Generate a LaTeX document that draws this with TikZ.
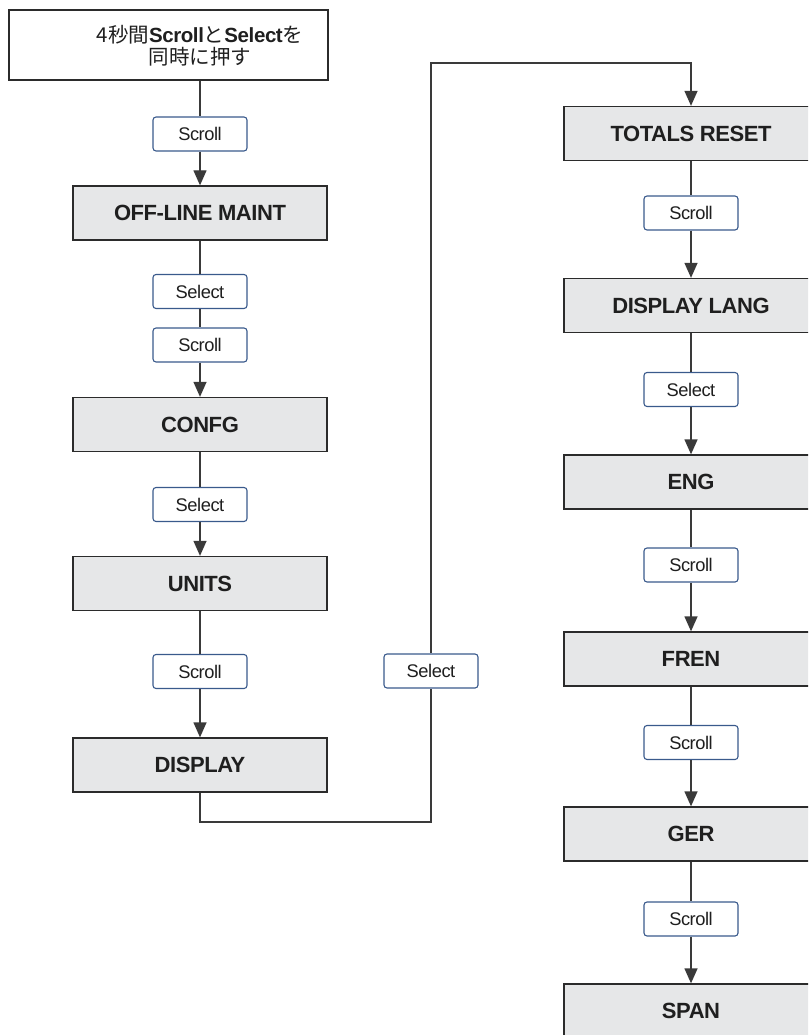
\documentclass[tikz,border=0pt]{standalone}
\usepackage{fontspec}
\setmainfont{Liberation Sans}
\newfontfamily\tightfont[LetterSpace=-2]{Liberation Sans}
\newfontfamily\btnfont[LetterSpace=-2.5]{Liberation Sans}
\newfontfamily\jp{Noto Sans CJK JP}
\usetikzlibrary{arrows.meta}
\definecolor{boxfill}{HTML}{E6E7E8}
\definecolor{boxline}{HTML}{2B2B2B}
\definecolor{btnline}{HTML}{3A5A8C}
\definecolor{conn}{HTML}{3A3A3A}
\tikzset{
  stepbox/.style={rectangle, draw=boxline, fill=boxfill, line width=1.3pt,
    minimum width=254pt, minimum height=54pt, inner sep=0pt,
    font=\tightfont\fontsize{22}{24}\selectfont\bfseries, text=black!88},
  btn/.style={rectangle, rounded corners=3pt, draw=btnline, fill=white, line width=1.1pt,
    minimum width=94pt, minimum height=34pt, inner sep=0pt,
    font=\btnfont\fontsize{18.3}{20}\selectfont, text=black!88},
  startbox/.style={rectangle, draw=boxline, fill=white, line width=1.1pt,
    minimum width=319pt, minimum height=70pt, inner sep=0pt},
  starttext/.style={align=center, inner sep=0pt,
    font=\fontsize{20.5}{22}\selectfont, text=black!88},
  link/.style={draw=conn, line width=1.3pt},
  arr/.style={link, -{Triangle[width=13pt,length=15pt]}}
}
\begin{document}
\begin{tikzpicture}[x=1pt,y=-1pt]
\useasboundingbox (0,0) rectangle (808,1035);
\begin{scope}
\clip (0,0) rectangle (808,1035);
% start
\node[startbox] (start) at (168.5,45) {};
\node[starttext] (starttxt) at (200,46) {\jp 4秒間{\tightfont\bfseries Scroll}と{\tightfont\bfseries Select}を\\\jp 同時に押す};
% left column
\node[btn] (b1) at (200,134) {Scroll};
\node[stepbox] (off) at (200,213) {OFF-LINE MAINT};
\node[btn] (b2) at (200,291.5) {Select};
\node[btn] (b3) at (200,345) {Scroll};
\node[stepbox] (confg) at (200,424.5) {CONFG};
\node[btn] (b4) at (200,504.5) {Select};
\node[stepbox] (units) at (200,583.5) {UNITS};
\node[btn] (b5) at (200,671.5) {Scroll};
\node[stepbox] (disp) at (200,765) {DISPLAY};
% middle
\node[btn] (b6) at (431,671) {Select};
\coordinate (c1) at (431,822);
% right column
\node[stepbox] (totals) at (691,133.5) {TOTALS RESET};
\coordinate (c2) at (691,63);
\node[btn] (r1) at (691,213) {Scroll};
\node[stepbox] (lang) at (691,305.5) {DISPLAY LANG};
\node[btn] (r2) at (691,389.5) {Select};
\node[stepbox] (eng) at (691,482) {ENG};
\node[btn] (r3) at (691,565) {Scroll};
\node[stepbox] (fren) at (691,659) {FREN};
\node[btn] (r4) at (691,742.5) {Scroll};
\node[stepbox] (ger) at (691,834) {GER};
\node[btn] (r5) at (691,919) {Scroll};
\node[stepbox] (span) at (691,1011) {SPAN};
% connectors left
\draw[link] (start.south -| b1.north) -- (b1.north);
\draw[arr] (b1.south) -- (off.north);
\draw[link] (off.south) -- (b2.north);
\draw[link] (b2.south) -- (b3.north);
\draw[arr] (b3.south) -- (confg.north);
\draw[link] (confg.south) -- (b4.north);
\draw[arr] (b4.south) -- (units.north);
\draw[link] (units.south) -- (b5.north);
\draw[arr] (b5.south) -- (disp.north);
% long connector
\draw[link] (disp.south) |- (c1) -- (b6.south);
\draw[arr] (b6.north) |- (c2) -- (totals.north);
% connectors right
\draw[link] (totals.south) -- (r1.north);
\draw[arr] (r1.south) -- (lang.north);
\draw[link] (lang.south) -- (r2.north);
\draw[arr] (r2.south) -- (eng.north);
\draw[link] (eng.south) -- (r3.north);
\draw[arr] (r3.south) -- (fren.north);
\draw[link] (fren.south) -- (r4.north);
\draw[arr] (r4.south) -- (ger.north);
\draw[link] (ger.south) -- (r5.north);
\draw[arr] (r5.south) -- (span.north);
\end{scope}
\end{tikzpicture}
\end{document}
